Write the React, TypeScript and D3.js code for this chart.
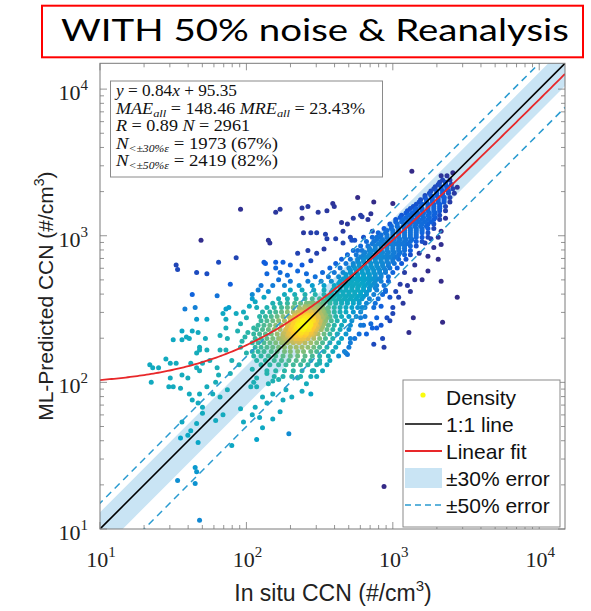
import React, { useMemo } from "react";
import * as d3 from "d3";

// ---------- chart values ----------
const axisMin = 10;
const axisMax = 15000;
const majorTicks = [10, 100, 1000, 10000];
const majorExponents = ["1", "2", "3", "4"];
const fitSlope = 0.84;
const fitIntercept = 95.35;
const bandRatios = [0.7, 1.3];
const dashRatios = [0.5, 1.5];
const titleText = "WITH 50% noise & Reanalysis";
const xLabelText = "In situ CCN (#/cm";
const yLabelText = "ML-Predicted CCN (#/cm";
const legendLabels = ["Density", "1:1 line", "Linear fit", "±30% error", "±50% error"];
const parulaStops = ["#352a87", "#0f5cdd", "#1481d6", "#06a4ca", "#2eb7a4", "#87bf77", "#d1bb59", "#fec832", "#f9fb0e"];

// scatter points, log10 of CCN: [in situ, ML-predicted]
const lowerLeftPoints: [number, number][] = [
  [1.86,2.50],[1.84,2.47],[1.86,2.43],[1.88,2.51],[1.93,2.47],
  [1.66,2.43],[1.73,2.43],[1.63,2.35],[1.67,2.34],[1.56,2.35],[1.61,2.30],[1.72,2.30],[1.50,2.29],[1.56,2.29],[1.59,2.31],
  [1.68,2.22],[1.66,2.20],[1.68,2.24],[1.73,2.22],[1.75,2.15],[1.70,2.13],[1.66,2.10],[1.68,2.08],[1.62,2.13],[1.60,2.03],
  [1.56,2.05],[1.52,2.13],[1.48,2.13],[1.45,2.16],[1.40,2.10],[1.36,2.10],[1.34,2.12],[1.35,2.00],[1.48,2.03],[1.50,1.97],
  [1.47,1.97],[1.55,1.96],[1.61,1.92],[1.63,1.88],[1.67,1.86],[1.70,1.83],[1.68,1.92],[1.73,1.97],[1.77,1.92],[1.79,2.00],
  [1.81,2.05],[1.80,2.10],[1.82,2.22],[1.86,2.22],[1.87,2.30],[1.86,2.37],[1.82,2.32],[1.94,2.35],[1.96,2.40],[2.01,2.34],
  [1.99,2.31],[1.96,2.24],[1.90,2.15],[1.89,2.06],[1.87,1.95],[1.82,1.90],[1.84,1.78],[1.79,1.74],[1.70,1.79],[1.66,1.72],
  [1.56,1.73],[1.62,1.67],[1.60,1.64],[1.67,1.59],[1.55,1.62],[1.65,1.42],[1.66,1.39],[1.53,1.33],[1.65,1.31],[1.68,1.06],
  [1.96,1.82],[1.98,1.73],[2.04,1.78],[2.06,1.83],[2.09,1.76],[2.11,1.69],[2.07,1.61],[1.90,1.57],[2.05,2.00],[2.07,1.97],
  [2.11,1.90],[2.14,1.86],[2.18,1.75],[2.23,1.80],[2.18,1.92],[2.15,1.99],[2.29,1.65],[2.04,2.57],[2.07,2.51],[2.05,2.37],
  [2.04,2.09],[2.07,2.03],[2.14,2.06],[2.18,2.01],[2.03,1.97],
  [2.41,1.99],[2.48,2.04],[2.46,2.08],[2.50,2.13],[2.35,2.03],[2.27,1.95],[2.31,1.90],[2.22,2.02],[2.38,1.94],[2.44,1.92],[2.25,1.88],
  [2.04,2.60],[2.08,2.63],[2.12,2.58],[2.06,2.55],[2.15,2.62],[2.10,2.66],[2.18,2.66],[2.22,2.70],[2.02,2.52],[1.98,2.48],
  [2.00,2.44],[1.97,2.28],[2.00,2.20],[1.95,2.12],
];

const upperPoints: [number, number][] = [
  [1.52,2.80],[1.53,2.77],[1.66,2.75],[1.73,2.74],[1.81,2.82],[1.93,2.85],[1.89,2.67],[2.12,2.82],[1.63,2.60],[1.80,2.59],
  [1.65,2.51],[1.58,2.50],
  [2.14,2.74],[2.23,2.75],[2.28,2.73],[2.35,2.76],[2.41,2.74],[2.30,2.69],[2.26,2.66],[2.38,2.80],[2.44,2.83],[2.20,2.78],
  [1.96,3.18],[1.69,2.97],[2.15,2.97],[2.16,2.95],[2.20,3.16],[2.23,3.18],[2.38,3.19],[2.42,3.20],[2.38,3.12],[2.49,3.16],
  [2.55,3.17],[2.59,3.22],[2.60,3.20],[2.76,3.26],[2.87,3.23],[3.00,3.22],[2.39,3.02],[2.44,3.02],[2.48,3.02],[2.54,3.01],
  [2.55,2.98],[2.61,2.98],[2.66,2.95],[2.72,2.97],[2.65,3.09],[2.69,3.08],[2.73,3.12],[2.79,3.13],[2.85,3.15],[2.66,3.03],
  [2.35,2.88],[2.42,2.90],[2.48,2.88],[2.53,2.91],[2.13,2.81],[2.20,2.82],[2.25,2.82],[2.30,2.80],
  [2.78,3.14],[2.83,3.11],[2.71,2.99],[2.74,2.97],[2.80,2.99],[2.86,3.03],[2.89,2.99],[2.76,2.90],[2.85,2.90],
  [3.13,3.44],[3.33,3.41],[3.41,3.43],[3.37,3.33],[3.44,3.33],[3.35,3.26],
];

const belowArmPoints: [number, number][] = [
  [3.36,3.12],[3.33,3.03],[3.31,2.99],[3.33,2.94],[3.28,2.92],[3.31,2.84],[3.24,2.86],[3.24,2.76],[3.33,2.69],[3.44,2.58],
  [3.34,2.41],[3.11,2.34],[3.14,2.44],[3.07,2.54],[3.10,2.66],[3.05,2.67],[2.98,2.58],[3.00,2.51],[2.98,2.42],[2.93,2.30],
  [2.94,2.24],[2.87,2.26],[2.86,2.37],[2.89,2.37],[2.80,2.39],[2.71,2.30],[2.68,2.20],[2.78,2.44],
  [2.69,2.19],[2.82,2.33],[2.85,2.40],[2.92,2.39],[2.96,2.44],[3.00,2.47],[2.89,2.44],[2.79,2.51],
  [2.94,1.29],
  [3.02,2.62],[3.08,2.75],[3.15,2.80],[3.18,2.88],[3.20,2.70],[2.95,2.62],[2.92,2.52],[3.04,2.58],[3.12,2.62],[3.26,2.98],
  [3.22,2.95],[3.15,2.70],
];

// dense cloud, row by row: [log10 predicted, log10 in situ values along that row]
const blobRows: [number, number[]][] = [
  [2.04,[2.19,2.25,2.31,2.37,2.44]],
  [2.08,[2.14,2.20,2.26,2.32,2.38,2.45,2.52]],
  [2.12,[2.10,2.16,2.22,2.27,2.32,2.37,2.42,2.48,2.55]],
  [2.15,[2.07,2.13,2.19,2.24,2.29,2.34,2.39,2.44,2.50,2.57]],
  [2.18,[2.05,2.10,2.15,2.20,2.25,2.30,2.35,2.40,2.45,2.50,2.56,2.63]],
  [2.21,[2.04,2.08,2.12,2.17,2.21,2.26,2.30,2.35,2.39,2.44,2.48,2.53,2.59,2.67]],
  [2.24,[2.06,2.10,2.14,2.18,2.22,2.26,2.30,2.34,2.38,2.42,2.46,2.50,2.55,2.61,2.70]],
  [2.27,[2.04,2.08,2.12,2.16,2.20,2.24,2.28,2.32,2.36,2.40,2.44,2.48,2.52,2.57,2.63,2.71]],
  [2.30,[2.06,2.10,2.14,2.18,2.22,2.26,2.30,2.34,2.38,2.42,2.46,2.50,2.54,2.59,2.65,2.74]],
  [2.33,[2.05,2.09,2.13,2.17,2.21,2.25,2.29,2.33,2.37,2.41,2.45,2.49,2.53,2.57,2.62,2.68,2.77]],
  [2.36,[2.07,2.11,2.15,2.19,2.23,2.27,2.31,2.35,2.39,2.43,2.47,2.51,2.55,2.59,2.64,2.70]],
  [2.39,[2.08,2.12,2.16,2.20,2.24,2.28,2.32,2.36,2.40,2.44,2.48,2.52,2.56,2.60,2.65,2.71,2.78]],
  [2.42,[2.10,2.14,2.18,2.22,2.26,2.30,2.34,2.38,2.42,2.46,2.50,2.54,2.58,2.62,2.67,2.72]],
  [2.45,[2.09,2.13,2.17,2.21,2.25,2.29,2.33,2.37,2.41,2.45,2.49,2.53,2.57,2.61,2.65,2.70,2.75,2.81]],
  [2.48,[2.11,2.16,2.20,2.24,2.28,2.32,2.36,2.40,2.44,2.48,2.52,2.56,2.60,2.64,2.68,2.73,2.78]],
  [2.51,[2.14,2.19,2.24,2.28,2.32,2.36,2.40,2.44,2.48,2.52,2.56,2.60,2.64,2.68,2.72,2.76,2.81,2.87]],
  [2.54,[2.18,2.23,2.28,2.33,2.37,2.41,2.45,2.49,2.53,2.57,2.61,2.65,2.69,2.73,2.77,2.82,2.88]],
  [2.57,[2.22,2.28,2.34,2.40,2.45,2.50,2.55,2.59,2.63,2.67,2.71,2.75,2.79,2.84,2.90]],
  [2.60,[2.26,2.33,2.40,2.47,2.53,2.58,2.62,2.66,2.70,2.74,2.78,2.82,2.87,2.93]],
  [2.63,[2.30,2.38,2.46,2.53,2.59,2.64,2.68,2.72,2.76,2.80,2.84,2.89,2.95]],
  [2.66,[2.36,2.45,2.53,2.60,2.65,2.69,2.73,2.77,2.81,2.85,2.89,2.94]],
  [2.69,[2.42,2.51,2.58,2.64,2.68,2.72,2.76,2.80,2.84,2.88,2.92,2.97]],
  [2.72,[2.47,2.56,2.63,2.68,2.72,2.76,2.80,2.84,2.88,2.92,2.97]],
  [2.75,[2.52,2.60,2.66,2.71,2.75,2.79,2.83,2.87,2.91,2.95,3.00]],
  [2.78,[2.57,2.64,2.70,2.74,2.78,2.82,2.86,2.90,2.94,2.98,3.03]],
  [2.81,[2.61,2.68,2.73,2.77,2.81,2.85,2.89,2.93,2.97,3.01,3.06]],
  [2.84,[2.65,2.71,2.76,2.80,2.84,2.88,2.92,2.96,3.00,3.04,3.09]],
  [2.87,[2.69,2.75,2.80,2.84,2.88,2.92,2.96,3.00,3.04,3.08,3.12]],
  [2.90,[2.73,2.79,2.84,2.88,2.92,2.96,3.00,3.04,3.08,3.12]],
  [2.93,[2.78,2.83,2.88,2.92,2.96,3.00,3.04,3.08,3.12,3.16]],
  [2.96,[2.82,2.87,2.92,2.96,3.00,3.04,3.08,3.12,3.16,3.20]],
  [2.99,[2.86,2.91,2.96,3.00,3.04,3.08,3.12,3.16,3.20,3.24]],
  [3.02,[2.90,2.95,3.00,3.04,3.08,3.12,3.16,3.20,3.24]],
  [3.05,[2.94,2.99,3.04,3.08,3.12,3.16,3.20,3.24,3.28]],
  [3.08,[2.98,3.03,3.08,3.12,3.16,3.20,3.24,3.28]],
  [3.11,[3.02,3.07,3.12,3.16,3.20,3.24,3.28,3.32]],
  [3.14,[3.06,3.11,3.16,3.20,3.24,3.28,3.32]],
  [3.17,[3.10,3.15,3.20,3.24,3.28,3.32,3.36]],
  [3.20,[3.14,3.19,3.24,3.28,3.32,3.36]],
  [3.23,[3.18,3.23,3.27,3.31,3.35,3.39]],
  [3.26,[3.22,3.27,3.31,3.35,3.39]],
  [3.29,[3.25,3.30,3.34,3.38,3.42]],
  [3.32,[3.28,3.33,3.37,3.41]],
  [3.35,[3.31,3.36,3.40]],
  [3.38,[3.34,3.39]],
  [3.41,[3.37]],
];

// the crowded middle of the high-CCN arm, between the rows above
const armRows: [number, number[]][] = [
  [2.555,[2.53,2.57,2.61,2.65,2.69,2.73,2.77]],
  [2.585,[2.56,2.60,2.64,2.68,2.72,2.76,2.80]],
  [2.615,[2.58,2.62,2.66,2.70,2.74,2.78,2.82]],
  [2.645,[2.60,2.64,2.68,2.72,2.76,2.80,2.84,2.88]],
  [2.675,[2.63,2.67,2.71,2.75,2.79,2.83,2.87]],
  [2.705,[2.66,2.70,2.74,2.78,2.82,2.86,2.90]],
  [2.735,[2.68,2.72,2.76,2.80,2.84,2.88,2.92]],
  [2.765,[2.71,2.75,2.79,2.83,2.87,2.91,2.95]],
  [2.795,[2.73,2.77,2.81,2.85,2.89,2.93,2.97]],
  [2.825,[2.76,2.80,2.84,2.88,2.92,2.96,3.00]],
  [2.855,[2.78,2.82,2.86,2.90,2.94,2.98,3.02]],
  [2.885,[2.81,2.85,2.89,2.93,2.97,3.01,3.05]],
  [2.915,[2.84,2.88,2.92,2.96,3.00,3.04,3.08]],
  [2.945,[2.86,2.90,2.94,2.98,3.02,3.06,3.10]],
  [2.975,[2.89,2.93,2.97,3.01,3.05,3.09,3.13]],
  [3.005,[2.92,2.96,3.00,3.04,3.08,3.12,3.16]],
  [3.035,[2.96,3.00,3.04,3.08,3.12,3.16,3.20]],
  [3.065,[2.99,3.03,3.07,3.11,3.15,3.19,3.23]],
  [3.095,[3.02,3.06,3.10,3.14,3.18,3.22,3.26]],
  [3.125,[3.05,3.09,3.13,3.17,3.21,3.25,3.29]],
  [3.155,[3.09,3.13,3.17,3.21,3.25,3.29]],
  [3.185,[3.12,3.16,3.20,3.24,3.28,3.32]],
  [3.215,[3.16,3.20,3.24,3.28,3.32]],
  [3.245,[3.19,3.23,3.27,3.31,3.35]],
  [3.275,[3.22,3.26,3.30,3.34]],
  [3.305,[3.26,3.30,3.34,3.38]],
  [3.335,[3.29,3.33,3.37]],
  [3.365,[3.32,3.36]],
];

// the most crowded (yellow) part of the cloud; each listed spot stands for several overlapping measurements
const coreRows: [number, number[]][] = [
  [2.28,[2.25,2.28,2.31,2.34,2.37]],
  [2.30,[2.24,2.27,2.30,2.33,2.36,2.39,2.42]],
  [2.32,[2.25,2.28,2.31,2.34,2.37,2.40,2.43,2.46]],
  [2.34,[2.26,2.29,2.32,2.35,2.38,2.41,2.44,2.47]],
  [2.36,[2.27,2.30,2.33,2.36,2.39,2.42,2.45,2.48,2.51]],
  [2.38,[2.28,2.31,2.34,2.37,2.40,2.43,2.46,2.49,2.52]],
  [2.40,[2.29,2.32,2.35,2.38,2.41,2.44,2.47,2.50,2.53]],
  [2.42,[2.30,2.33,2.36,2.39,2.42,2.45,2.48,2.51,2.54]],
  [2.44,[2.31,2.34,2.37,2.40,2.43,2.46,2.49,2.52,2.55]],
  [2.46,[2.33,2.36,2.39,2.42,2.45,2.48,2.51,2.54]],
  [2.48,[2.35,2.38,2.41,2.44,2.47,2.50,2.53,2.56]],
  [2.50,[2.37,2.40,2.43,2.46,2.49,2.52,2.55]],
  [2.52,[2.40,2.43,2.46,2.49,2.52]],
  [2.54,[2.43,2.46,2.49,2.52]],
];
const coreMultiplicity = 4;

// ---------- layout ----------
const W = 591;
const H = 611;
const plotLeft = 100;
const plotRight = 565;
const plotTop = 63.3;
const plotBottom = 529;
const serif = "'Liberation Serif', 'Times New Roman', serif";
const sans = "'Liberation Sans', Arial, Helvetica, sans-serif";

export default function App() {
  const x = d3.scaleLog().domain([axisMin, axisMax]).range([plotLeft, plotRight]);
  const y = d3.scaleLog().domain([axisMin, axisMax]).range([plotBottom, plotTop]);

  const points = useMemo(() => {
    const logs: { lx: number; ly: number; w: number }[] = [];
    for (const [lx, ly] of [...lowerLeftPoints, ...upperPoints, ...belowArmPoints]) logs.push({ lx, ly, w: 1 });
    for (const rows of [blobRows, armRows]) for (const [ly, row] of rows) for (const lx of row) logs.push({ lx, ly, w: 1 });
    for (const [ly, row] of coreRows) for (const lx of row) logs.push({ lx, ly, w: coreMultiplicity });
    // density estimated in a compressed CCN space (nearly linear at low CCN, logarithmic at high CCN)
    const c = 1200;
    const pts = logs.map(({ lx, ly, w }) => {
      const vx = Math.pow(10, lx);
      const vy = Math.pow(10, ly);
      return { vx, vy, w, ux: Math.log10(vx + c), uy: Math.log10(vy + c), d: 0 };
    });
    const h = 0.0176;
    const k = 1 / (2 * h * h);
    for (const p of pts) {
      let s = 0;
      for (const q of pts) {
        const dx = p.ux - q.ux;
        const dy = p.uy - q.uy;
        s += q.w * Math.exp(-(dx * dx + dy * dy) * k);
      }
      p.d = s;
    }
    const [mn, mx] = d3.extent(pts, (p) => p.d) as [number, number];
    const toColorPos = d3.scaleLinear().domain([0, 0.03, 0.11, 0.53, 0.75, 1]).range([0, 0.17, 0.4, 0.6, 0.72, 1]).clamp(true);
    const color = d3.piecewise(d3.interpolateRgb, parulaStops);
    return pts
      .map((p) => ({ ...p, t: toColorPos((p.d - mn) / (mx - mn)) }))
      .sort((a, b) => a.t - b.t)
      .map((p) => ({ ...p, fill: color(p.t) }));
  }, []);

  const minorTicks: number[] = [];
  for (const dec of majorTicks) for (let m = 2; m <= 9; m++) if (m * dec <= axisMax) minorTicks.push(m * dec);

  const fitXs = d3.range(0, 201).map((i) => Math.pow(10, 1 + (i * (Math.log10(axisMax) - 1)) / 200));
  const fitPath = d3
    .line<number>()
    .x((v) => x(v))
    .y((v) => y(fitSlope * v + fitIntercept))(fitXs);

  const lineEnds = [1, 100000];
  const ratioLine = (r: number) =>
    d3.line<number>().x((v) => x(v)).y((v) => y(v * r))(lineEnds);
  const bandPath =
    `M${x(lineEnds[0])},${y(lineEnds[0] * bandRatios[1])}L${x(lineEnds[1])},${y(lineEnds[1] * bandRatios[1])}` +
    `L${x(lineEnds[1])},${y(lineEnds[1] * bandRatios[0])}L${x(lineEnds[0])},${y(lineEnds[0] * bandRatios[0])}Z`;

  const bandColor = "#c9e4f4";
  const dashColor = "#2a9bd0";
  const fitColor = "#e8282a";
  const frameColor = "#7a7a7a";

  const legendX = 403;
  const legendY = 380;
  const legendRowY = [397, 424, 451, 478, 505];

  return (
    <svg
      width={W}
      height={H}
      viewBox={`0 0 ${W} ${H}`}
      style={{ position: "absolute", left: 0, top: 0, background: "#fff" }}
    >
      <defs>
        <clipPath id="plotClip">
          <rect x={plotLeft} y={plotTop} width={plotRight - plotLeft} height={plotBottom - plotTop} />
        </clipPath>
      </defs>
      <rect x={0} y={0} width={W} height={H} fill="#fff" />

      {/* title */}
      <rect x={42} y={5.7} width={541} height={51.6} fill="none" stroke="#ff0000" strokeWidth={2} />
      <text
        x={61}
        y={41}
        fontFamily="Lato, 'Open Sans', sans-serif"
        fontSize={31}
        fill="#000"
        textLength={508}
        lengthAdjust="spacingAndGlyphs"
      >
        {titleText}
      </text>

      {/* plot contents */}
      <g clipPath="url(#plotClip)">
        <path d={bandPath} fill={bandColor} stroke="none" />
        {points.map((p, i) => (
          <circle key={i} cx={x(p.vx)} cy={y(p.vy)} r={2.5} fill={p.fill} />
        ))}
        {dashRatios.map((r) => (
          <path key={r} d={ratioLine(r) || ""} fill="none" stroke={dashColor} strokeWidth={1.5} strokeDasharray="7,5" />
        ))}
        <path d={ratioLine(1) || ""} fill="none" stroke="#000" strokeWidth={1.6} />
        <path d={fitPath || ""} fill="none" stroke={fitColor} strokeWidth={1.8} />
      </g>

      {/* frame and ticks */}
      <rect
        x={plotLeft}
        y={plotTop}
        width={plotRight - plotLeft}
        height={plotBottom - plotTop}
        fill="none"
        stroke={frameColor}
        strokeWidth={1}
      />
      <g stroke={frameColor} strokeWidth={0.8}>
        {majorTicks.map((v) => (
          <g key={"M" + v}>
            <line x1={x(v)} x2={x(v)} y1={plotBottom} y2={plotBottom - 7} />
            <line x1={x(v)} x2={x(v)} y1={plotTop} y2={plotTop + 7} />
            <line x1={plotLeft} x2={plotLeft + 7} y1={y(v)} y2={y(v)} />
            <line x1={plotRight} x2={plotRight - 7} y1={y(v)} y2={y(v)} />
          </g>
        ))}
        {minorTicks.map((v) => (
          <g key={"m" + v}>
            <line x1={x(v)} x2={x(v)} y1={plotBottom} y2={plotBottom - 4} />
            <line x1={x(v)} x2={x(v)} y1={plotTop} y2={plotTop + 4} />
            <line x1={plotLeft} x2={plotLeft + 4} y1={y(v)} y2={y(v)} />
            <line x1={plotRight} x2={plotRight - 4} y1={y(v)} y2={y(v)} />
          </g>
        ))}
      </g>

      {/* tick labels */}
      {majorTicks.map((v, i) => (
        <text key={"xl" + v} x={x(v) + 1} y={567} textAnchor="middle" fontFamily={serif} fontSize={22} fill="#222">
          10<tspan dy={-10} fontSize={15}>{majorExponents[i]}</tspan>
        </text>
      ))}
      {majorTicks.map((v, i) => (
        <text key={"yl" + v} x={88} y={y(v) + 11} textAnchor="end" fontFamily={serif} fontSize={22} fill="#222">
          10<tspan dy={-10} fontSize={15}>{majorExponents[i]}</tspan>
        </text>
      ))}

      {/* axis labels */}
      <text x={333} y={601} textAnchor="middle" fontFamily={sans} fontSize={23} fill="#222">
        {xLabelText}
        <tspan dy={-10} fontSize={15}>3</tspan>
        <tspan dy={10}>)</tspan>
      </text>
      <text
        transform={`translate(53,${(plotTop + plotBottom) / 2}) rotate(-90)`}
        textAnchor="middle"
        fontFamily={sans}
        fontSize={21}
        fill="#222"
      >
        {yLabelText}
        <tspan dy={-9} fontSize={14}>3</tspan>
        <tspan dy={9}>)</tspan>
      </text>

      {/* statistics box */}
      <rect x={110.5} y={81} width={272} height={96} fill="#fff" stroke="#8a8a8a" strokeWidth={1} />
      <g fontFamily={serif} fontSize={16} fill="#111">
        <text x={116} y={96} textLength={121} lengthAdjust="spacingAndGlyphs">
          <tspan fontStyle="italic">y</tspan> = 0.84<tspan fontStyle="italic">x</tspan> + 95.35
        </text>
        <text x={116} y={113.5} textLength={249} lengthAdjust="spacingAndGlyphs">
          <tspan fontStyle="italic">MAE</tspan>
          <tspan fontStyle="italic" fontSize={11} dy={3}>all</tspan>
          <tspan dy={-3}> = 148.46  </tspan>
          <tspan fontStyle="italic">MRE</tspan>
          <tspan fontStyle="italic" fontSize={11} dy={3}>all</tspan>
          <tspan dy={-3}> = 23.43%</tspan>
        </text>
        <text x={116} y={131} textLength={134} lengthAdjust="spacingAndGlyphs">
          <tspan fontStyle="italic">R</tspan> = 0.89  <tspan fontStyle="italic">N</tspan> = 2961
        </text>
        <text x={116} y={148.5} textLength={162} lengthAdjust="spacingAndGlyphs">
          <tspan fontStyle="italic">N</tspan>
          <tspan fontStyle="italic" fontSize={10} dy={3}>{"<±30%ε"}</tspan>
          <tspan dy={-3}> = 1973  (67%)</tspan>
        </text>
        <text x={116} y={166} textLength={162} lengthAdjust="spacingAndGlyphs">
          <tspan fontStyle="italic">N</tspan>
          <tspan fontStyle="italic" fontSize={10} dy={3}>{"<±50%ε"}</tspan>
          <tspan dy={-3}> = 2419  (82%)</tspan>
        </text>
      </g>

      {/* legend */}
      <rect x={legendX} y={legendY} width={157} height={147} fill="#fff" stroke="#8a8a8a" strokeWidth={1} />
      <circle cx={423} cy={legendRowY[0] - 2} r={2.6} fill={parulaStops[parulaStops.length - 1]} />
      <line x1={405} x2={442} y1={legendRowY[1]} y2={legendRowY[1]} stroke="#000" strokeWidth={1.6} />
      <line x1={405} x2={442} y1={legendRowY[2]} y2={legendRowY[2]} stroke={fitColor} strokeWidth={1.8} />
      <rect x={405} y={legendRowY[3] - 10} width={37} height={20} fill={bandColor} />
      <line
        x1={405}
        x2={442}
        y1={legendRowY[4]}
        y2={legendRowY[4]}
        stroke={dashColor}
        strokeWidth={1.5}
        strokeDasharray="6,4"
      />
      {legendLabels.map((lab, i) => (
        <text key={lab} x={446} y={legendRowY[i] + 7.5} fontFamily={sans} fontSize={21} fill="#111">
          {lab}
        </text>
      ))}
    </svg>
  );
}
